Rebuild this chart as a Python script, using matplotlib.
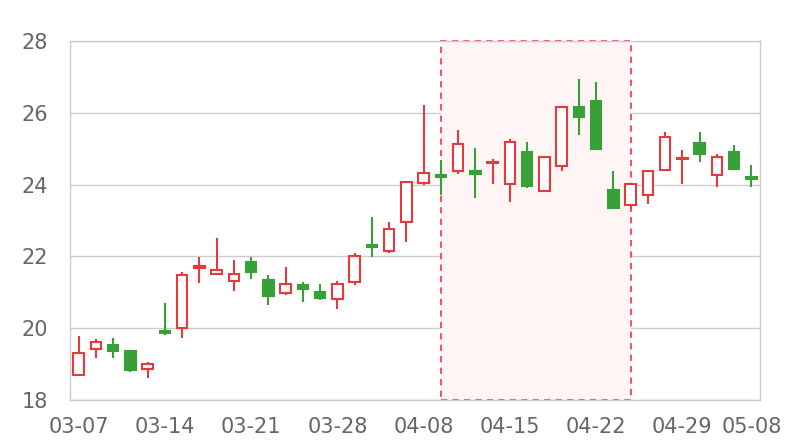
import matplotlib.pyplot as plt
from matplotlib.patches import Rectangle

# trading days (2024), categories on the x axis
dates = ["03-07", "03-08", "03-11", "03-12", "03-13", "03-14", "03-15", "03-18",
         "03-19", "03-20", "03-21", "03-22", "03-25", "03-26", "03-27", "03-28",
         "03-29", "04-01", "04-02", "04-03", "04-08", "04-09", "04-10", "04-11",
         "04-12", "04-15", "04-16", "04-17", "04-18", "04-19", "04-22", "04-23",
         "04-24", "04-25", "04-26", "04-29", "04-30", "05-06", "05-07", "05-08"]

opens = [18.70, 19.41, 19.53, 19.37, 18.85, 19.92, 20.00, 21.69, 21.51, 21.31,
         21.84, 21.33, 20.99, 21.20, 21.00, 20.82, 21.28, 22.33, 22.14, 22.97,
         24.05, 24.28, 24.39, 24.37, 24.60, 24.02, 24.90, 23.81, 24.52, 26.15,
         26.34, 23.84, 23.43, 23.71, 24.41, 24.71, 25.16, 24.26, 24.92, 24.20]
closes = [19.30, 19.62, 19.37, 18.83, 19.00, 19.88, 21.47, 21.73, 21.61, 21.50,
          21.56, 20.90, 21.24, 21.09, 20.83, 21.22, 22.01, 22.27, 22.77, 24.06,
          24.33, 24.22, 25.13, 24.29, 24.64, 25.20, 23.96, 24.76, 26.15, 25.89,
          25.00, 23.35, 24.03, 24.37, 25.32, 24.75, 24.84, 24.78, 24.43, 24.16]
highs = [19.78, 19.70, 19.72, 19.37, 19.05, 20.69, 21.57, 21.99, 22.50, 21.90,
         21.99, 21.48, 21.70, 21.29, 21.22, 21.32, 22.09, 23.10, 22.95, 24.10,
         26.22, 24.69, 25.52, 25.03, 24.71, 25.27, 25.19, 24.76, 26.18, 26.93,
         26.87, 24.38, 24.03, 24.37, 25.46, 24.96, 25.46, 24.84, 25.09, 24.55]
lows = [18.70, 19.16, 19.16, 18.78, 18.61, 19.81, 19.72, 21.25, 21.48, 21.04,
        21.38, 20.64, 20.92, 20.73, 20.79, 20.54, 21.21, 21.97, 22.10, 22.40,
        23.98, 23.71, 24.29, 23.62, 24.02, 23.52, 23.90, 23.81, 24.38, 25.38,
        24.98, 23.33, 23.31, 23.45, 24.37, 24.02, 24.62, 23.94, 24.41, 23.92]

tick_idx = [0, 5, 10, 15, 20, 25, 30, 35, 39]
area_start, area_end = "04-09", "04-24"

up_color = "#e5393c"
down_color = "#37a037"
text_color = "#666666"
line_color = "#cccccc"

fig = plt.figure(figsize=(8, 4.4), dpi=100)
ax = fig.add_axes([70 / 800, 40 / 440, 690 / 800, 359 / 440])

n = len(dates)
body_w = 0.62
for i in range(n):
    o, c, h, l = opens[i], closes[i], highs[i], lows[i]
    up = c >= o
    col = up_color if up else down_color
    ax.plot([i, i], [l, h], color=col, lw=1.5, zorder=3, solid_capstyle="butt")
    bottom = min(o, c)
    height = max(abs(c - o), 0.01)
    ax.add_patch(Rectangle((i - body_w / 2, bottom), body_w, height,
                           facecolor="white" if up else col, edgecolor=col,
                           lw=1.5, zorder=4))

# highlighted area
x0 = dates.index(area_start)
x1 = dates.index(area_end)
ax.add_patch(Rectangle((x0, 18), x1 - x0, 10, facecolor="#fff5f5",
                       edgecolor="#f25565", lw=1.5, linestyle=(0, (3, 2.5)),
                       zorder=1, clip_on=False))

ax.set_xlim(-0.5, n - 0.5)
ax.set_ylim(18, 28)
ax.set_yticks(range(18, 29, 2))
ax.set_xticks(tick_idx)
ax.set_xticklabels([dates[i] for i in tick_idx])
ax.tick_params(axis="both", length=0, labelsize=15, colors=text_color)
ax.tick_params(axis="y", pad=16)
ax.tick_params(axis="x", pad=12)
ax.grid(axis="y", color=line_color, lw=1, zorder=0)
ax.set_axisbelow(True)
for s in ax.spines.values():
    s.set_color(line_color)
    s.set_linewidth(1)

fig.savefig("out.png", dpi=100)
